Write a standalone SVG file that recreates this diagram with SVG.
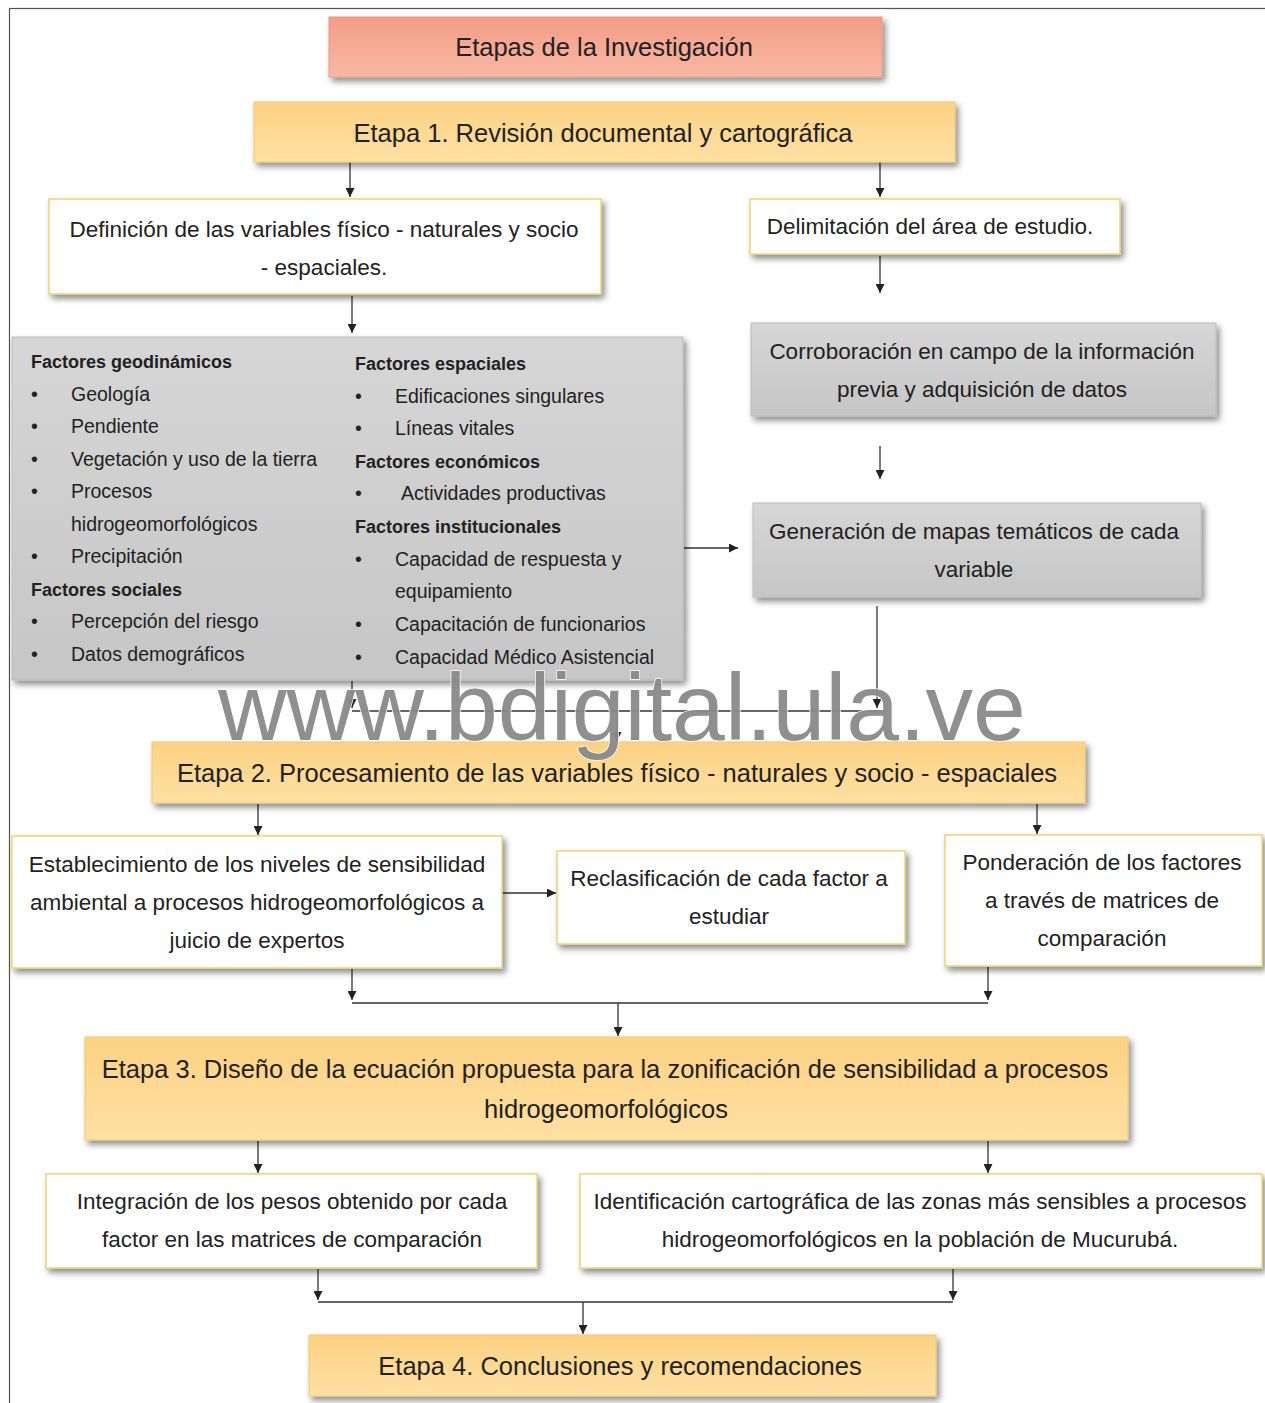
<svg xmlns="http://www.w3.org/2000/svg" width="1265" height="1403" viewBox="0 0 1265 1403">
<style>
text{font-family:"Liberation Sans",Arial,sans-serif;fill:#222}
.t{font-size:25.5px;text-anchor:middle}
.b{font-size:22.5px;text-anchor:middle}
.l{font-size:19.5px}
.h{font-size:18px;font-weight:bold}
.c{fill:none;stroke:#333;stroke-width:1.3}
.j{fill:none;stroke:#666;stroke-width:2}
.a{marker-end:url(#ah)}
.w{fill:#fff;stroke:#efd36e;stroke-width:1.5;filter:url(#sh)}
.g{fill:url(#gg);stroke:#bbb;stroke-width:1;filter:url(#sh)}
.o{fill:url(#og);stroke:#f3c86a;stroke-width:1;filter:url(#sh)}
</style>
<defs>
<filter id="sh" x="-10%" y="-20%" width="125%" height="150%"><feDropShadow dx="3" dy="4" stdDeviation="3" flood-color="#000" flood-opacity="0.45"/></filter>
<linearGradient id="og" x1="0" y1="0" x2="0" y2="1"><stop offset="0" stop-color="#fcd283"/><stop offset="1" stop-color="#fee0a3"/></linearGradient>
<linearGradient id="sg" x1="0" y1="0" x2="0" y2="1"><stop offset="0" stop-color="#f29c86"/><stop offset="1" stop-color="#f9b9a3"/></linearGradient>
<linearGradient id="gg" x1="0" y1="0" x2="0" y2="1"><stop offset="0" stop-color="#d6d6d6"/><stop offset="1" stop-color="#c6c6c6"/></linearGradient>
<marker id="ah" viewBox="0 0 10 10" refX="10" refY="5" markerWidth="10" markerHeight="9" markerUnits="userSpaceOnUse" orient="auto"><path d="M0,0 L10,5 L0,10 z" fill="#222"/></marker>
</defs>
<rect x="0" y="0" width="1265" height="1403" fill="#fff"/>
<rect x="9.5" y="8.5" width="1270" height="1410" fill="none" stroke="#555" stroke-width="1.2"/>

<g id="connectors">
<path class="c a" d="M350,162 V197"/>
<path class="c a" d="M880,162 V197"/>
<path class="c a" d="M880,256 V293"/>
<path class="c a" d="M352,296 V333"/>
<path class="c a" d="M880,446 V479"/>
<path class="c a" d="M684,548 H738"/>
<path class="c a" d="M352,681 V708"/>
<path class="c a" d="M877,606 V708"/>
<path class="j" d="M352,711 H877"/>
<path class="c a" d="M617,711 V741"/>
<path class="c a" d="M258,804 V835"/>
<path class="c a" d="M1037,804 V834"/>
<path class="c a" d="M502,893 H556"/>
<path class="c a" d="M352,969 V1000"/>
<path class="c a" d="M988,967 V1000"/>
<path class="j" d="M352,1003 H988"/>
<path class="c a" d="M618,1003 V1036"/>
<path class="c a" d="M258,1141 V1173"/>
<path class="c a" d="M988,1141 V1173"/>
<path class="c a" d="M318,1269 V1300"/>
<path class="c a" d="M953,1269 V1300"/>
<path class="j" d="M318,1302 H953"/>
<path class="c a" d="M583,1302 V1334"/>
</g>

<g id="titulo">
<rect x="329" y="17" width="553" height="60" fill="url(#sg)" stroke="#e89a84" stroke-width="1" filter="url(#sh)"/>
<text class="t" x="604" y="56">Etapas de la Investigación</text>
</g>
<g id="etapa1">
<rect class="o" x="254" y="102" width="701" height="60"/>
<text class="t" x="603" y="142">Etapa 1. Revisión documental y cartográfica</text>
</g>
<g id="definicion">
<rect class="w" x="49" y="199" width="552" height="95"/>
<text class="b" x="324" y="237">Definición de las variables físico - naturales y socio</text>
<text class="b" x="324" y="275">- espaciales.</text>
</g>
<g id="delimitacion">
<rect class="w" x="750" y="199" width="370" height="55"/>
<text class="b" x="930" y="234">Delimitación del área de estudio.</text>
</g>
<g id="factores">
<rect class="g" x="12" y="337" width="671" height="343"/>
<text class="h" x="31" y="368">Factores geodinámicos</text>
<text class="l" x="31" y="401">•</text><text class="l" x="71" y="401">Geología</text>
<text class="l" x="31" y="433">•</text><text class="l" x="71" y="433">Pendiente</text>
<text class="l" x="31" y="466">•</text><text class="l" x="71" y="466">Vegetación y uso de la tierra</text>
<text class="l" x="31" y="498">•</text><text class="l" x="71" y="498">Procesos</text>
<text class="l" x="71" y="531">hidrogeomorfológicos</text>
<text class="l" x="31" y="563">•</text><text class="l" x="71" y="563">Precipitación</text>
<text class="h" x="31" y="596">Factores sociales</text>
<text class="l" x="31" y="628">•</text><text class="l" x="71" y="628">Percepción del riesgo</text>
<text class="l" x="31" y="661">•</text><text class="l" x="71" y="661">Datos demográficos</text>
<text class="h" x="355" y="370">Factores espaciales</text>
<text class="l" x="355" y="403">•</text><text class="l" x="395" y="403">Edificaciones singulares</text>
<text class="l" x="355" y="435">•</text><text class="l" x="395" y="435">Líneas vitales</text>
<text class="h" x="355" y="468">Factores económicos</text>
<text class="l" x="355" y="500">•</text><text class="l" x="401" y="500">Actividades productivas</text>
<text class="h" x="355" y="533">Factores institucionales</text>
<text class="l" x="355" y="566">•</text><text class="l" x="395" y="566">Capacidad de respuesta y</text>
<text class="l" x="395" y="598">equipamiento</text>
<text class="l" x="355" y="631">•</text><text class="l" x="395" y="631">Capacitación de funcionarios</text>
<text class="l" x="355" y="664">•</text><text class="l" x="395" y="664">Capacidad Médico Asistencial</text>
</g>
<g id="corroboracion">
<rect class="g" x="751" y="323" width="465" height="93"/>
<text class="b" x="982" y="359">Corroboración  en campo de la información</text>
<text class="b" x="982" y="397">previa y adquisición de datos</text>
</g>
<g id="generacion">
<rect class="g" x="753" y="503" width="448" height="94"/>
<text class="b" x="974" y="539">Generación  de mapas temáticos de cada</text>
<text class="b" x="974" y="577">variable</text>
</g>
<g id="etapa2">
<rect class="o" x="152" y="742" width="933" height="61"/>
<text class="t" x="617" y="782">Etapa 2. Procesamiento de las variables físico - naturales y socio - espaciales</text>
</g>
<g id="establecimiento">
<rect class="w" x="12" y="836" width="490" height="132"/>
<text class="b" x="257" y="872">Establecimiento de los niveles de sensibilidad</text>
<text class="b" x="257" y="910">ambiental a procesos hidrogeomorfológicos a</text>
<text class="b" x="257" y="948">juicio de expertos</text>
</g>
<g id="reclasificacion">
<rect class="w" x="557" y="851" width="348" height="93"/>
<text class="b" x="729" y="886">Reclasificación de cada factor a</text>
<text class="b" x="729" y="924">estudiar</text>
</g>
<g id="ponderacion">
<rect class="w" x="945" y="835" width="317" height="131"/>
<text class="b" x="1102" y="870">Ponderación  de los factores</text>
<text class="b" x="1102" y="908">a través de matrices de</text>
<text class="b" x="1102" y="946">comparación</text>
</g>
<g id="etapa3">
<rect class="o" x="85" y="1037" width="1043" height="103"/>
<text class="t" x="605" y="1078">Etapa 3. Diseño de la ecuación propuesta para la zonificación de sensibilidad a procesos</text>
<text class="t" x="606" y="1118">hidrogeomorfológicos</text>
</g>
<g id="integracion">
<rect class="w" x="46" y="1174" width="491" height="94"/>
<text class="b" x="292" y="1209">Integración de los pesos obtenido por cada</text>
<text class="b" x="292" y="1247">factor en las matrices de comparación</text>
</g>
<g id="identificacion">
<rect class="w" x="580" y="1174" width="682" height="94"/>
<text class="b" x="920" y="1209">Identificación cartográfica de las zonas más sensibles a procesos</text>
<text class="b" x="920" y="1247">hidrogeomorfológicos en la población de Mucurubá.</text>
</g>
<g id="etapa4">
<rect class="o" x="309" y="1335" width="627" height="61"/>
<text class="t" x="620" y="1375">Etapa 4. Conclusiones y recomendaciones</text>
</g>
<text x="218" y="740" font-size="95" style="fill:#8a8a8a;stroke:#fff;stroke-width:1.5;paint-order:stroke" opacity="0.95">www.bdigital.ula.ve</text>
</svg>
